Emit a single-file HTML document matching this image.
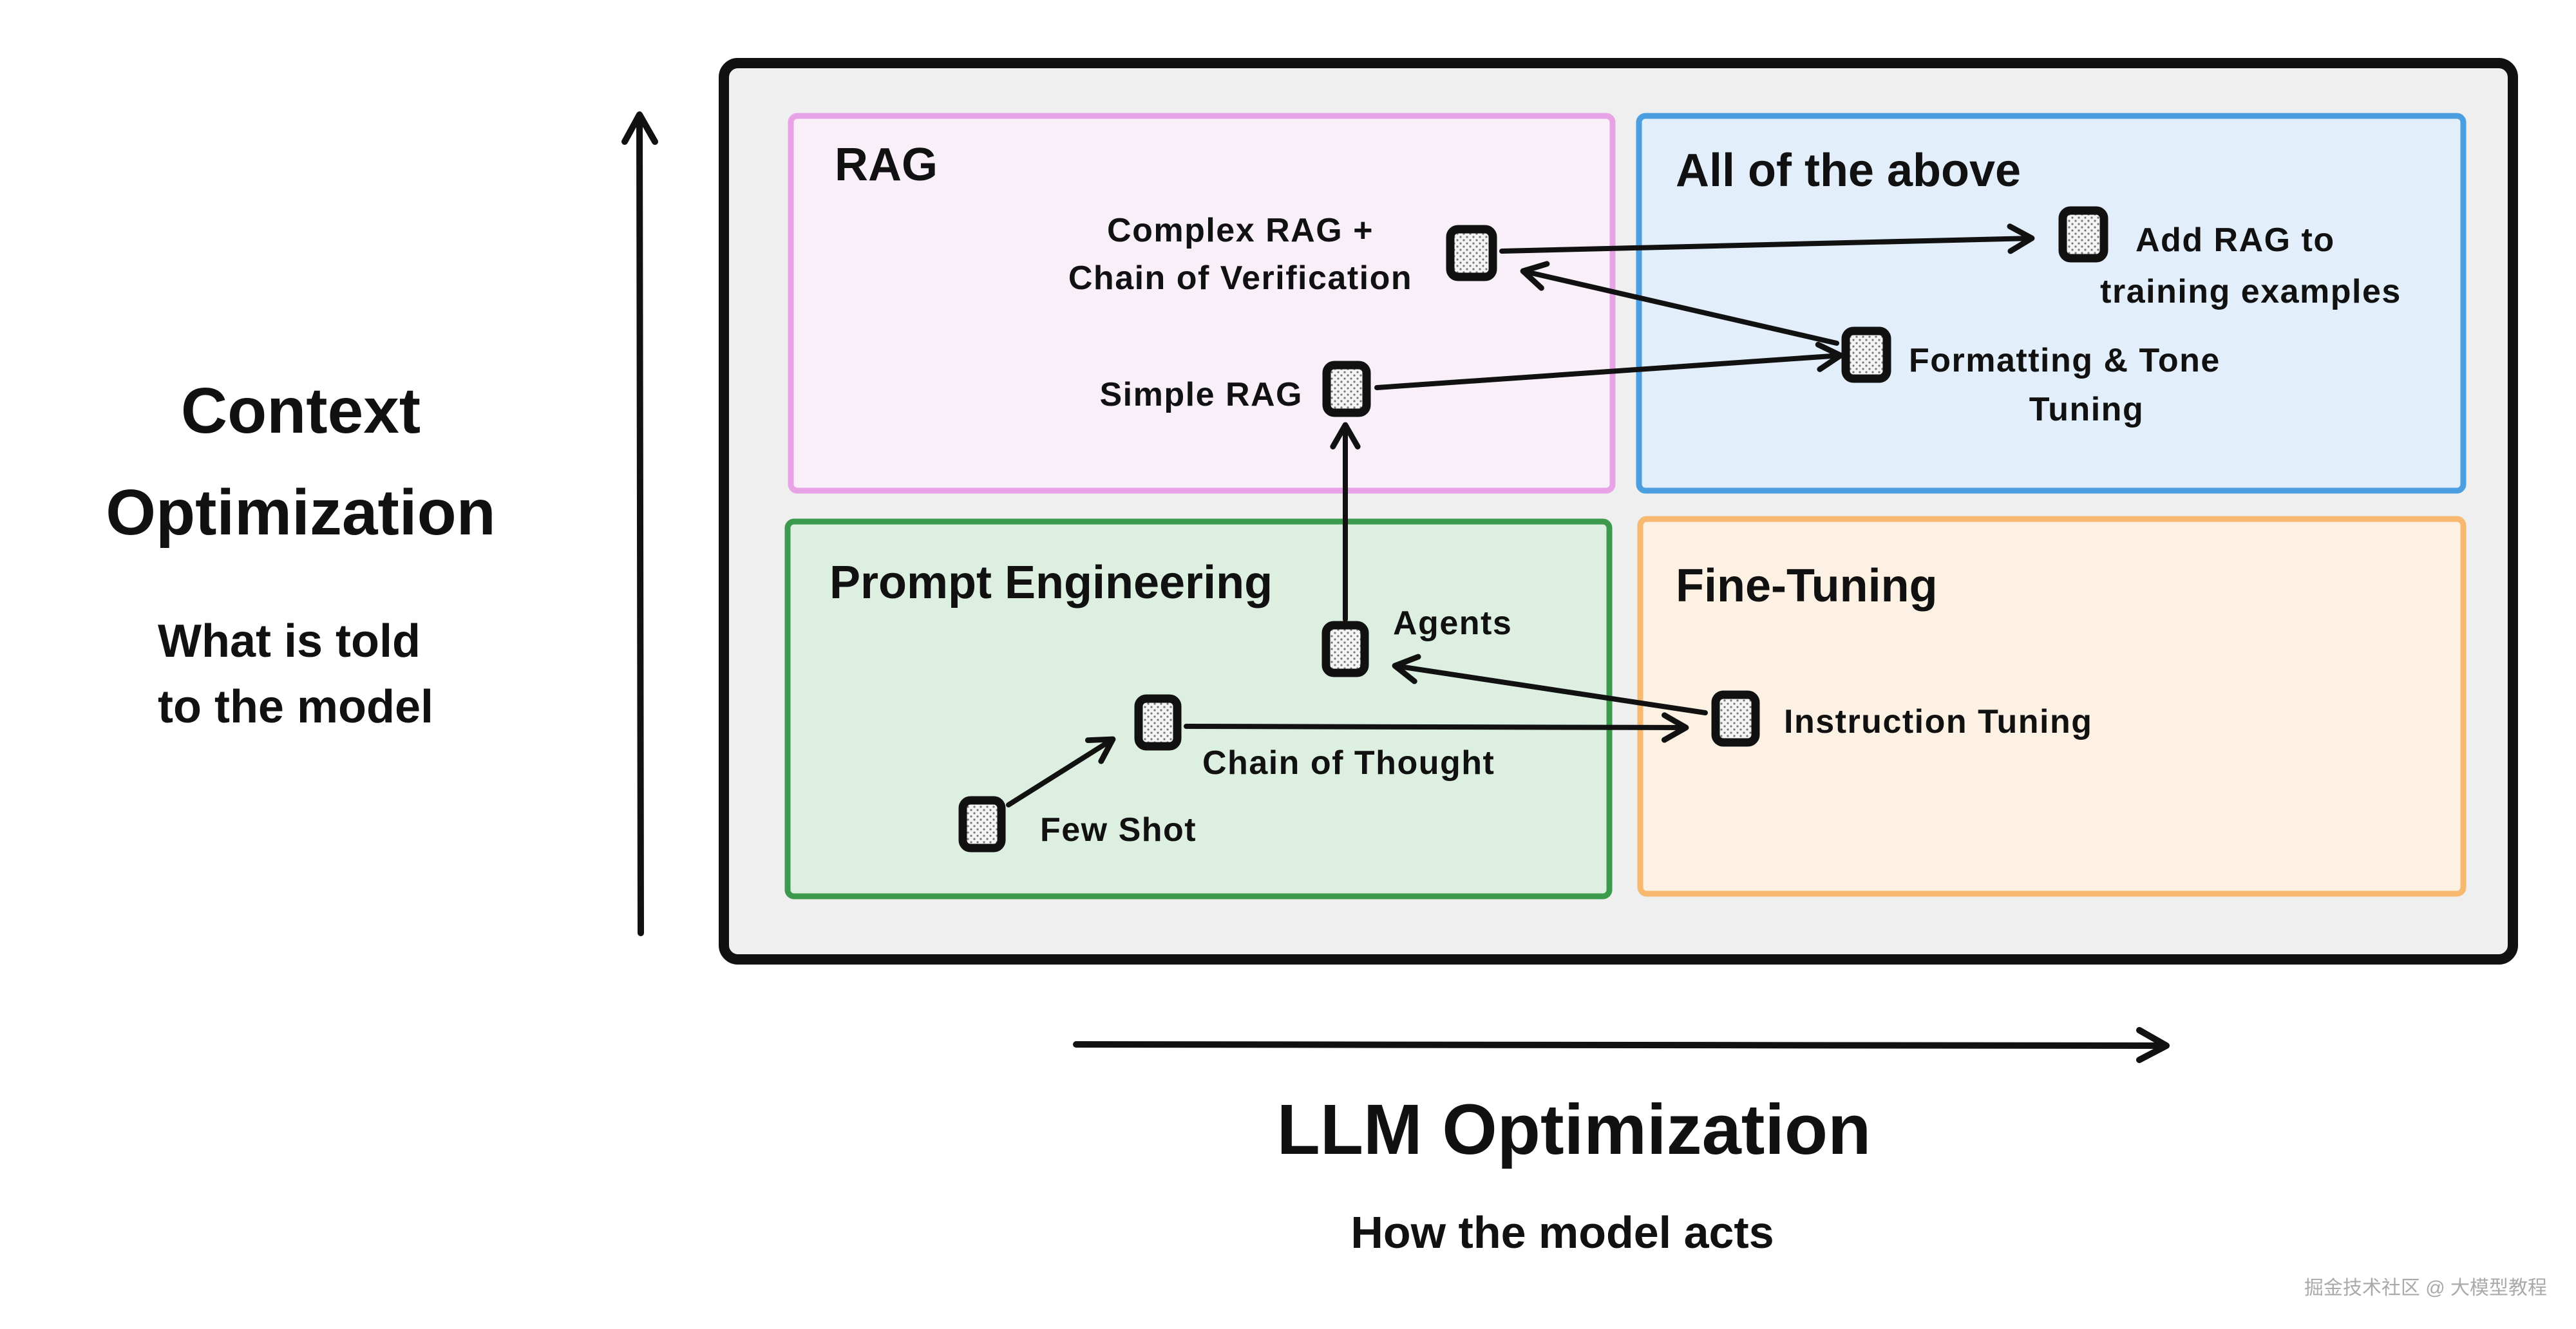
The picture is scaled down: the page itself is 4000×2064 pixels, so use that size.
<!DOCTYPE html>
<html><head><meta charset="utf-8"><style>
html,body{margin:0;padding:0;background:#fff}
svg{display:block}
text{font-family:"Liberation Sans","Noto Sans CJK SC",sans-serif;fill:#111}
</style></head><body>
<svg width="4000" height="2064" viewBox="0 0 4000 2064" xmlns="http://www.w3.org/2000/svg">
<defs>
<marker id="ah" markerWidth="6" markerHeight="6" refX="5" refY="3" orient="auto" markerUnits="strokeWidth">
<path d="M0.8,0.6 L5,3 L0.8,5.4" fill="none" stroke="#111" stroke-width="1.1" stroke-linecap="round" stroke-linejoin="round"/>
</marker>
<pattern id="dots" width="10" height="10" patternUnits="userSpaceOnUse">
<rect width="10" height="10" fill="#f4f4f4"/><circle cx="3" cy="3" r="1.6" fill="#777"/><circle cx="8" cy="8" r="1.6" fill="#777"/>
</pattern>
</defs>
<rect width="4000" height="2064" fill="#fff"/>
<rect x="1124" y="98" width="2778" height="1392" rx="22" fill="#efefef" stroke="#111" stroke-width="16"/>
<rect x="1228" y="180" width="1276" height="582" rx="10" fill="#f9eff9" stroke="#e8a2e6" stroke-width="9"/>
<rect x="2545" y="180" width="1280" height="582" rx="10" fill="#e2eefa" stroke="#4b9fe0" stroke-width="9"/>
<rect x="1223" y="810" width="1276" height="582" rx="10" fill="#dcefe0" stroke="#3b9a4b" stroke-width="9"/>
<rect x="2547" y="806" width="1278" height="582" rx="10" fill="#fcf1e3" stroke="#f6b96f" stroke-width="9"/>
<g font-size="72" font-weight="bold">
<text x="1296" y="280">RAG</text>
<text x="2602" y="289">All of the above</text>
<text x="1288" y="929">Prompt Engineering</text>
<text x="2602" y="934">Fine-Tuning</text>
</g>
<g stroke="#111" stroke-width="8" fill="none" stroke-linecap="round" marker-end="url(#ah)">
<line x1="2332" y1="390" x2="3155" y2="370"/>
<line x1="2852" y1="533" x2="2365" y2="421"/>
<line x1="2138" y1="602" x2="2858" y2="552"/>
<line x1="2089" y1="962" x2="2089" y2="660"/>
<line x1="2648" y1="1107" x2="2166" y2="1034"/>
<line x1="1842" y1="1128" x2="2618" y2="1130"/>
<line x1="1566" y1="1250" x2="1728" y2="1148"/>
</g>
<g fill="url(#dots)" stroke="#111" stroke-width="13">
<rect x="2252" y="356" width="66" height="74" rx="12"/>
<rect x="3203" y="327" width="64" height="74" rx="12"/>
<rect x="2866" y="514" width="64" height="74" rx="12"/>
<rect x="2060" y="567" width="62" height="74" rx="12"/>
<rect x="2059" y="971" width="60" height="74" rx="12"/>
<rect x="1768" y="1085" width="60" height="74" rx="12"/>
<rect x="1495" y="1243" width="60" height="74" rx="12"/>
<rect x="2664" y="1079" width="62" height="74" rx="12"/>
</g>
<g font-size="52" font-weight="bold" letter-spacing="1.5">
<text x="1926" y="375" text-anchor="middle">Complex RAG +</text>
<text x="1926" y="449" text-anchor="middle">Chain of Verification</text>
<text x="3316" y="390">Add RAG to</text>
<text x="3495" y="470" text-anchor="middle">training examples</text>
<text x="2964" y="577">Formatting &amp; Tone</text>
<text x="3240" y="653" text-anchor="middle">Tuning</text>
<text x="2023" y="630" text-anchor="end">Simple RAG</text>
<text x="2163" y="985">Agents</text>
<text x="1867" y="1202">Chain of Thought</text>
<text x="1615" y="1306">Few Shot</text>
<text x="2770" y="1138">Instruction Tuning</text>
</g>
<g stroke="#111" stroke-width="10" fill="none" stroke-linecap="round" stroke-linejoin="round">
<line x1="995" y1="1449" x2="993" y2="180"/>
<path d="M970,220 L993,178 L1017,220"/>
<line x1="1671" y1="1622" x2="3360" y2="1624"/>
<path d="M3322,1600 L3364,1624 L3322,1646"/>
</g>
<g font-weight="bold" text-anchor="middle">
<text x="467" y="672" font-size="100">Context</text>
<text x="467" y="830" font-size="100">Optimization</text>
<text x="449" y="1020" font-size="72">What is told</text>
<text x="459" y="1122" font-size="72">to the model</text>
<text x="2444" y="1792" font-size="110">LLM Optimization</text>
<text x="2426" y="1938" font-size="70">How the model acts</text>
</g>
<text x="3955" y="2010" font-size="30" text-anchor="end" style="fill:#aaa">掘金技术社区 @ 大模型教程</text>
</svg>
</body></html>
